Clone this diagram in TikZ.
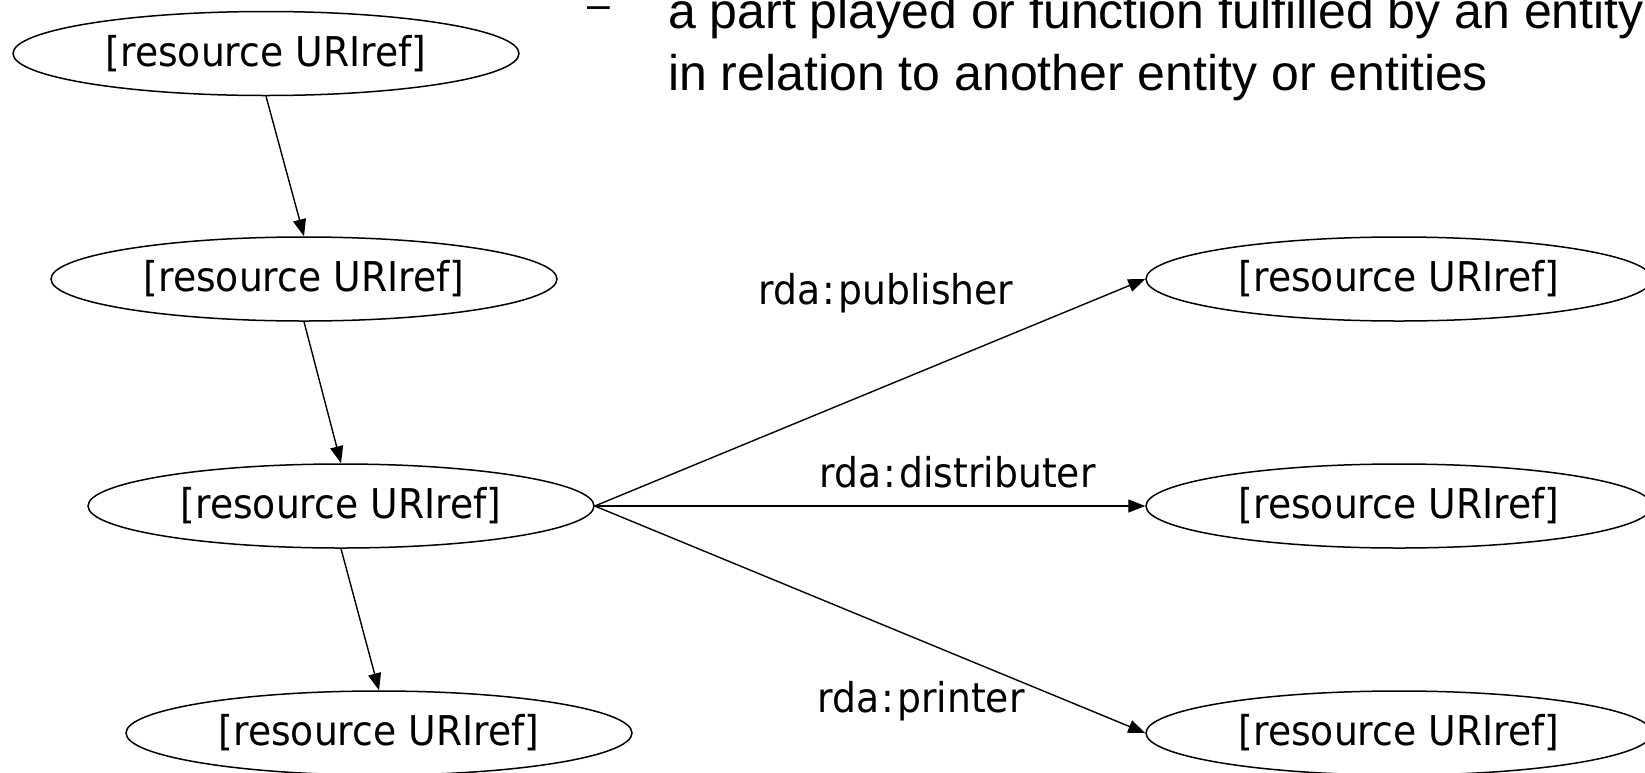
\documentclass[tikz,border=0pt]{standalone}
\usepackage{graphicx}
\usepackage{fontspec}
\setmainfont{DejaVu Sans}
\newfontfamily\notefont{Liberation Sans}
\usetikzlibrary{shapes.geometric,arrows.meta}
% slightly condensed setting for the node and edge labels
\newcommand\narrowtext[1]{\scalebox{0.92}[1]{#1}}
% a colon with a little air on both sides
\newcommand\widecolon{\kern3pt:\kern3pt}

\begin{document}
\begin{tikzpicture}[x=1pt,y=-1pt,
  res/.style={draw, ellipse, line width=1.5pt, minimum width=506pt,
    minimum height=84pt, inner sep=0pt, font=\fontsize{41}{49}\selectfont},
  rel/.style={font=\fontsize{41}{49}\selectfont, inner sep=0pt, anchor=base west},
  link/.style={line width=1.4pt, -{Triangle[length=17pt,width=13pt]}},
  note/.style={font=\notefont\fontsize{50}{60}\selectfont, inner sep=0pt,
    anchor=base west}]
\useasboundingbox (0,0) rectangle (1645,772);
\clip (0,0) rectangle (1645,772);

% bullet text at the top
\node[note, font=\notefont\fontsize{41}{50}\selectfont] (dash) at (587,18) {–};
\node[note] (line1) at (668,28) {a part played or function fulfilled by an entity};
\node[note] (line2) at (668,90) {in relation to another entity or entities};

% chain of resources on the left
\node[res] (r1) at (266,53.5) {\narrowtext{[resource URIref]}};
\node[res] (r2) at (304,279) {\narrowtext{[resource URIref]}};
\node[res] (r3) at (341,506) {\narrowtext{[resource URIref]}};
\node[res] (r4) at (379,733) {\narrowtext{[resource URIref]}};

% related agents on the right
\node[res] (pub) at (1399,279) {\narrowtext{[resource URIref]}};
\node[res] (dis) at (1399,506) {\narrowtext{[resource URIref]}};
\node[res] (prt) at (1399,733) {\narrowtext{[resource URIref]}};

\draw[link] (r1.south) -- (r2.north);
\draw[link] (r2.south) -- (r3.north);
\draw[link] (r3.south) -- (r4.north);

\draw[link] (r3.east) -- (pub.west);
\draw[link] (r3.east) -- (dis.west);
\draw[link] (r3.east) -- (prt.west);

% property labels
\node[rel] (lpub) at (758,304) {\narrowtext{rda\widecolon publisher}};
\node[rel] (ldis) at (819,487) {\narrowtext{rda\widecolon distributer}};
\node[rel] (lprt) at (817,712) {\narrowtext{rda\widecolon printer}};
\end{tikzpicture}
\end{document}
